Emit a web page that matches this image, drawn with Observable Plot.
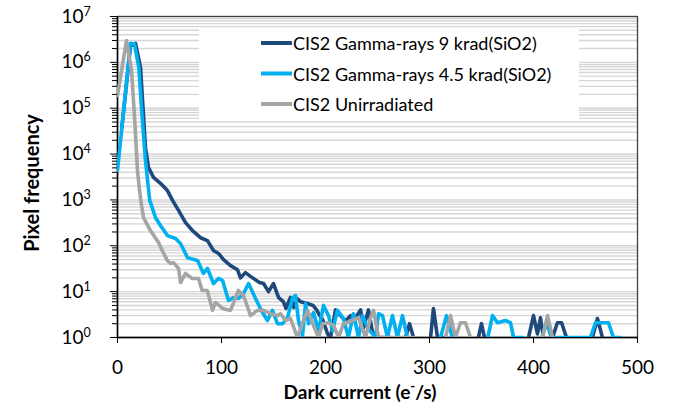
<!DOCTYPE html>
<html>
<head>
<meta charset="utf-8">
<script src="https://cdn.jsdelivr.net/npm/d3@7"></script>
<script src="https://cdn.jsdelivr.net/npm/@observablehq/plot@0.6"></script>
<style>
  body { margin: 0; background: #fff; }
  #chart { width: 673px; height: 405px; }
</style>
</head>
<body>
<div id="chart"></div>
<script>
// Dark-current histograms of the CIS2 sensor: [dark current (e-/s), pixel count].
// A null count leaves a gap (empty bins cannot sit on a log axis).
const seriesNames = ["CIS2 Gamma-rays 9 krad(SiO2)", "CIS2 Gamma-rays 4.5 krad(SiO2)", "CIS2 Unirradiated"];
const seriesColors = ["#1F497D", "#00B0F0", "#A5A5A5"];

const gamma9 = [
  [4.2, 38000], [12.5, 2300000], [17.3, 2600000], [22.1, 780000], [24.7, 89000], [26.9, 13800],
  [29.8, 5100], [34.6, 3100], [41.3, 2300], [48, 1600], [52.9, 980], [58.7, 590], [65.4, 320],
  [72.1, 215], [79.8, 150], [86.5, 130], [92.3, 79], [97.1, 68], [102, 50], [108.7, 37],
  [115.4, 30], [118.3, 20], [123, 26], [129.8, 20], [136.5, 15.8], [140.4, 15], [145.2, 10],
  [150, 15], [154.8, 7.5], [159.6, 6], [162, 4.3], [166.3, 7.5], [169.5, 4.5], [173, 7],
  [176, 6], [182.7, 5.5], [188, 5], [191.5, 4], [194.5, 3], [197.5, 2.4], [202, 1.2],
  [204.8, 1], [209.6, 4], [214.4, 3], [219.2, 2.3], [224, 3], [227, 2.3], [233.7, 4],
  [236.5, 1.6], [241.3, 4], [245.2, 1.3], [250, 1], [262.5, 1], [270, null],
  [276.9, 1], [280.8, 2], [284.6, 1], [292, null],
  [301, 1], [303.8, 4.3], [307.7, 1], [313.5, 1], [330, null],
  [347, 1], [350, 2], [352.9, 1], [375, null],
  [395.2, 1], [400, 3], [403.8, 1.2], [406.7, 2.7], [409.6, 1], [414, null],
  [418.3, 1], [423, 2.1], [427, 2.1], [431.7, 1], [444, null],
  [456.7, 1], [461.5, 2.6], [466.3, 1]
];

const gamma45 = [
  [0, 4400], [12.5, 2600000], [16.3, 2500000], [20.5, 780000], [23.7, 63000], [26.9, 7200],
  [31, 975], [36.5, 413], [41.3, 277], [48, 167], [55.8, 144], [60.6, 112], [67.3, 55],
  [77, 48], [82.7, 25], [86.5, 32], [92.3, 15], [97.1, 19.4], [101, 17.5], [106.7, 6.4],
  [111.5, 7.4], [116.3, 7.1], [121.2, 9.1], [126, 15], [132.7, 7.1], [139.4, 3.5],
  [144.2, 2.35], [149, 3.9], [153.8, 2], [158.7, 2], [163.5, 2.7], [168.3, 7.4], [171.2, 8.2],
  [174, 2.35], [177.9, 1.1], [180.8, 5.5], [183.7, 2], [188.5, 3.5], [193.3, 1.4], [198.1, 5],
  [202.9, 3], [206.7, 1.4], [211.5, 3.9], [217.3, 2.6], [222, 1], [226.9, 3.3], [231.7, 1],
  [235.6, 3], [240.4, 1.65], [248, 1], [251, 3.3], [254.8, 3], [259.6, 1], [264.4, 3],
  [269.2, 1], [274, 3], [278.8, 1], [295, null],
  [310.6, 1], [316.3, 3], [322, 1], [340, null],
  [356, 1], [360.6, 3], [365.4, 2.1], [373, 2.35], [377.9, 2.1], [380.8, 1], [389.4, 1], [398, null],
  [408, 1], [412.5, 2.1], [417.3, 1], [454.8, 1], [459.6, 2.1], [472.1, 2.1], [476.9, 1], [483.7, 1]
];

const unirradiated = [
  [0, 190000], [8.7, 3000000], [13.5, 660000], [16.3, 69000], [19.2, 4400], [21.2, 1600],
  [23.1, 760], [25, 413], [31.7, 215], [39.4, 118], [43, 79], [47.8, 48], [51, 41], [53.8, 43],
  [58.7, 32], [60.6, 15.8], [65.4, 25], [71.8, 19.4], [77.9, 19.4], [81.4, 10.6], [86.3, 10.6],
  [89.4, 5.8], [91.3, 3.9], [94.2, 5.8], [101, 4.3], [108.7, 3.9], [116.3, 10.6], [121.2, 8.2],
  [127.9, 3], [134.6, 3.9], [140.4, 3.9], [147.1, 3.3], [153.8, 3], [156.7, 3.3], [161.5, 2.35],
  [166.3, 2.6], [173, 1], [178.8, 2.35], [182.7, 3.9], [188.5, 1.83], [193.3, 1], [197.1, 2],
  [202.9, 2.1], [207.7, 1.83], [212.5, 1], [217.3, 2], [226, 2.35], [231.7, 2.7], [238.5, 1],
  [243.3, 2.7], [246.2, 3.9], [251, 1], [284.6, 1], [300, null],
  [315.4, 1], [320.2, 3], [325, 1], [329.8, 2.1], [334.6, 2.1], [339.4, 1], [370, null],
  [408.7, 1], [413.5, 3], [418.3, 1]
];

const xTicks = [0, 100, 200, 300, 400, 500];
const yDecades = [1e0, 1e1, 1e2, 1e3, 1e4, 1e5, 1e6, 1e7];
const yExponents = ["0", "1", "2", "3", "4", "5", "6", "7"];

// Minor log ticks (2..9 within each decade) for the gridlines.
const yMinor = [];
for (const d of yDecades.slice(0, -1)) for (let k = 2; k <= 9; k++) yMinor.push(d * k);

// Long-format table for the line mark.
const rows = [];
[gamma9, gamma45, unirradiated].forEach((pts, i) =>
  pts.forEach(([x, count]) => rows.push({series: seriesNames[i], x, count}))
);

const FONT = "Lato, 'Open Sans', sans-serif";

const chart = Plot.plot({
  width: 673,
  height: 405,
  marginLeft: 117,
  marginRight: 36,
  marginTop: 16,
  marginBottom: 68,
  style: {fontFamily: FONT, fontSize: "18px", color: "#000", background: "#fff"},
  x: {domain: [0, 500], axis: null},
  y: {type: "log", domain: [1, 1e7], axis: null},
  color: {domain: seriesNames, range: seriesColors},
  marks: [
    Plot.ruleY([...yMinor, ...yDecades], {stroke: "#d6d6d6", strokeWidth: 1.4}),
    Plot.frame({stroke: "#404040", strokeWidth: 1.3}),
    Plot.ruleX([0], {stroke: "#000", strokeWidth: 1.5}),
    Plot.ruleY([1], {stroke: "#000", strokeWidth: 1.5}),
    Plot.line(rows, {
      x: "x", y: "count", z: "series", stroke: "series",
      strokeWidth: 3.6, strokeLinejoin: "round", strokeLinecap: "round", clip: true
    }),
    Plot.axisY(yMinor, {tickSize: 5, tickFormat: () => "", stroke: "#000", label: null}),
    Plot.axisY(yDecades, {tickSize: 7, tickPadding: 27, tickFormat: () => "10", fontSize: 19, stroke: "#000", label: null}),
    Plot.text(yDecades, {
      y: d => d, text: (d, i) => yExponents[i], frameAnchor: "left",
      dx: -34, dy: -5, textAnchor: "start", fontSize: 12.5
    }),
    Plot.axisX(xTicks, {tickSize: 6, tickPadding: 17, fontSize: 19, stroke: "#000", label: null, tickFormat: d => String(d)})
  ]
});

document.getElementById("chart").appendChild(chart);

// Axis titles and the legend box laid over the plot area.
const svg = d3.select(chart);

svg.append("text")
  .attr("transform", "translate(31,183) rotate(-90)")
  .attr("text-anchor", "middle")
  .attr("dominant-baseline", "central")
  .style("font", `bold 20px ${FONT}`)
  .attr("fill", "#000")
  .text("Pixel frequency");

const xt = svg.append("text")
  .attr("x", 360).attr("y", 399)
  .attr("text-anchor", "middle")
  .style("font", `bold 19px ${FONT}`)
  .attr("fill", "#000");
xt.append("tspan").text("Dark current (e");
xt.append("tspan").attr("dy", -8).style("font-size", "13px").text("-");
xt.append("tspan").attr("dy", 8).text("/s)");

const legend = svg.append("g");
legend.append("rect")
  .attr("x", 199).attr("y", 28).attr("width", 380).attr("height", 91)
  .attr("fill", "#fff");
seriesNames.forEach((name, i) => {
  const y = 43 + i * 30.5;
  legend.append("line")
    .attr("x1", 261).attr("x2", 292).attr("y1", y).attr("y2", y)
    .attr("stroke", seriesColors[i]).attr("stroke-width", 4);
  legend.append("text")
    .attr("x", 293).attr("y", y)
    .attr("text-anchor", "start")
    .attr("dominant-baseline", "central")
    .style("font", `18px ${FONT}`)
    .attr("fill", "#000")
    .text(name);
});
</script>
</body>
</html>
